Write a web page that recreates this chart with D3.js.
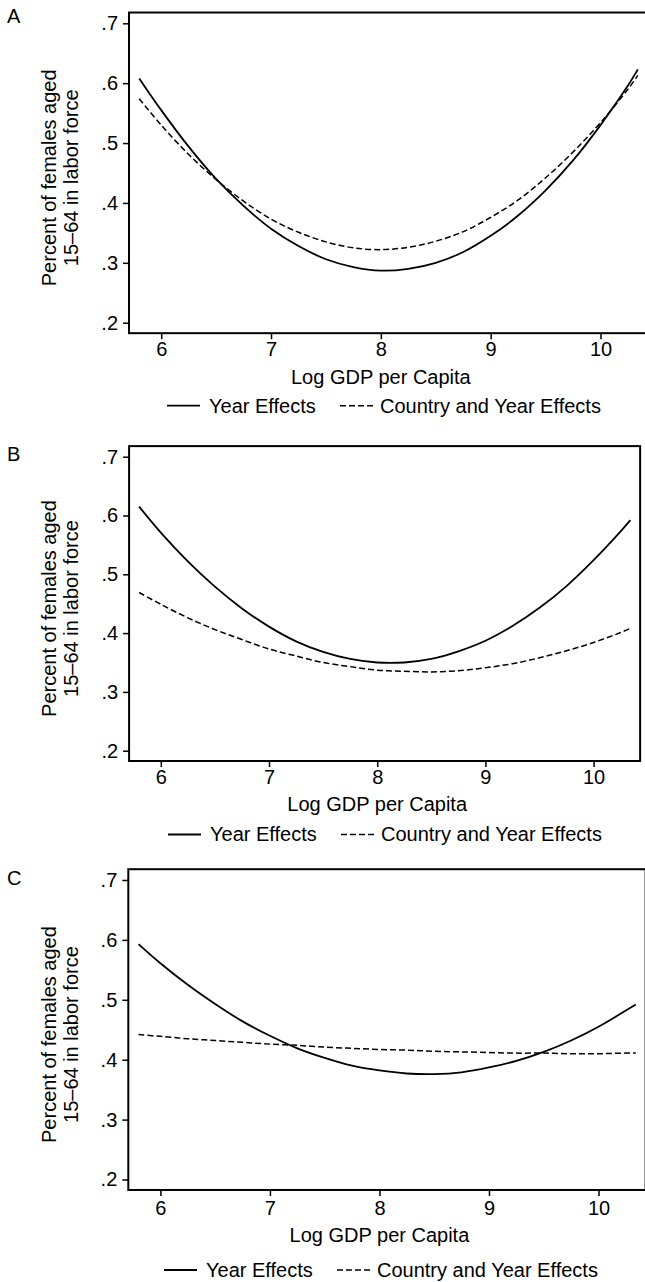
<!DOCTYPE html>
<html>
<head>
<meta charset="utf-8">
<script src="https://cdn.jsdelivr.net/npm/d3@7"></script>
<style>
  html, body { margin: 0; padding: 0; background: #fff; }
  svg { display: block; }
  text { font-family: "Liberation Sans", Arial, Helvetica, sans-serif; fill: #000; }
</style>
</head>
<body>
<svg id="chart" width="645" height="1282"></svg>
<script>
// Log GDP per capita grid at which the fitted curves are evaluated
const logGdp = [5.8, 6.0, 6.25, 6.5, 6.75, 7.0, 7.25, 7.5, 7.75, 8.0, 8.25, 8.5, 8.75, 9.0, 9.25, 9.5, 9.75, 10.0, 10.25, 10.34];

// Panel A
const aYearEffects        = [0.608, 0.555, 0.494, 0.440, 0.395, 0.357, 0.328, 0.306, 0.293, 0.287, 0.290, 0.300, 0.318, 0.345, 0.379, 0.421, 0.471, 0.530, 0.596, 0.623];
const aCountryYearEffects = [0.574, 0.530, 0.481, 0.439, 0.403, 0.373, 0.351, 0.335, 0.325, 0.322, 0.326, 0.336, 0.352, 0.376, 0.405, 0.442, 0.485, 0.534, 0.590, 0.613];
// Panel B
const bYearEffects        = [0.615, 0.571, 0.522, 0.479, 0.442, 0.411, 0.386, 0.368, 0.356, 0.350, 0.350, 0.356, 0.369, 0.387, 0.412, 0.443, 0.480, 0.524, 0.573, 0.592];
const bCountryYearEffects = [0.469, 0.449, 0.426, 0.406, 0.389, 0.373, 0.361, 0.350, 0.343, 0.337, 0.335, 0.334, 0.336, 0.341, 0.348, 0.358, 0.370, 0.384, 0.401, 0.408];
// Panel C
const cYearEffects        = [0.593, 0.561, 0.525, 0.493, 0.464, 0.440, 0.419, 0.403, 0.390, 0.382, 0.377, 0.376, 0.379, 0.387, 0.398, 0.413, 0.432, 0.455, 0.482, 0.492];
const cCountryYearEffects = [0.442, 0.439, 0.435, 0.432, 0.429, 0.426, 0.424, 0.421, 0.419, 0.417, 0.416, 0.414, 0.413, 0.412, 0.411, 0.411, 0.410, 0.410, 0.411, 0.411];

const panelLetters = ["A", "B", "C"];
const xTicks = [6, 7, 8, 9, 10];
const yTicks = [0.2, 0.3, 0.4, 0.5, 0.6, 0.7];
const yTickLabels = [".2", ".3", ".4", ".5", ".6", ".7"];
const xTitle = "Log GDP per Capita";
const yTitleLines = ["Percent of females aged", "15\u201364 in labor force"];
const seriesNames = ["Year Effects", "Country and Year Effects"];

// shared data extent of every plot region
const xExtent = [5.707, 10.43];
const yExtent = [0.1825, 0.718];

// pixel anchors of each panel: where x=6, x=10, y=.2, y=.7 fall,
// plus the offsets of the text rows beneath the plot region
const panels = [
  { letter: panelLetters[0], year: aYearEffects, cy: aCountryYearEffects,
    x6: 161.2, x10: 600.5, y2: 322.7, y7: 23.3, letterY: 22.5, legendShift: 0,
    tickPad: 3, titleOff: 50.5, legendOff: 79.5 },
  { letter: panelLetters[1], year: bYearEffects, cy: bCountryYearEffects,
    x6: 160.8, x10: 593.6, y2: 750.7, y7: 456.7, letterY: 461, legendShift: 1,
    tickPad: 3, titleOff: 50.5, legendOff: 80.5 },
  { letter: panelLetters[2], year: cYearEffects, cy: cCountryYearEffects,
    x6: 160.4, x10: 598.5, y2: 1179.5, y7: 880, letterY: 885, legendShift: -3,
    tickPad: 5, titleOff: 52.5, legendOff: 87 }
];

const svg = d3.select("#chart");
const FS = 20;

panels.forEach(p => {
  const x = d3.scaleLinear().domain([6, 10]).range([p.x6, p.x10]);
  const y = d3.scaleLinear().domain([0.2, 0.7]).range([p.y2, p.y7]);
  const left = x(xExtent[0]), right = x(xExtent[1]);
  const top = y(yExtent[1]), bottom = y(yExtent[0]);

  const g = svg.append("g");

  // panel letter
  g.append("text").attr("x", 7).attr("y", p.letterY)
    .style("font-size", FS + "px").text(p.letter);

  // curves
  const line = d3.line()
    .x((d, i) => x(logGdp[i]))
    .y(d => y(d))
    .curve(d3.curveCatmullRom.alpha(0.5));

  g.append("path").datum(p.cy)
    .attr("d", line).attr("fill", "none").attr("stroke", "#000")
    .attr("stroke-width", 1.5).attr("stroke-dasharray", "6,3");
  g.append("path").datum(p.year)
    .attr("d", line).attr("fill", "none").attr("stroke", "#000")
    .attr("stroke-width", 1.8);

  // plot region frame
  g.append("rect").attr("x", left).attr("y", top)
    .attr("width", right - left).attr("height", bottom - top)
    .attr("fill", "none").attr("stroke", "#000").attr("stroke-width", 2);

  // y axis
  const yAxis = d3.axisLeft(y).tickValues(yTicks)
    .tickFormat((d, i) => yTickLabels[i]).tickSize(6).tickPadding(5);
  const ya = g.append("g").attr("transform", `translate(${left},0)`).call(yAxis);
  ya.select(".domain").remove();
  ya.selectAll("line").attr("stroke", "#000").attr("stroke-width", 1.5);
  ya.selectAll("text").style("font-size", FS + "px")
    .style("font-family", '"Liberation Sans", Arial, sans-serif').attr("fill", "#000");

  // x axis
  const xAxis = d3.axisBottom(x).tickValues(xTicks).tickSize(6).tickPadding(p.tickPad)
    .tickFormat(d3.format("d"));
  const xa = g.append("g").attr("transform", `translate(0,${bottom})`).call(xAxis);
  xa.select(".domain").remove();
  xa.selectAll("line").attr("stroke", "#000").attr("stroke-width", 1.5);
  xa.selectAll("text").style("font-size", FS + "px")
    .style("font-family", '"Liberation Sans", Arial, sans-serif').attr("fill", "#000");

  // x axis title
  g.append("text").attr("x", x(8)).attr("y", bottom + p.titleOff)
    .attr("text-anchor", "middle").style("font-size", FS + "px").text(xTitle);

  // y axis title (two lines)
  const cyMid = (top + bottom) / 2 + 5;
  [56, 77.5].forEach((bx, i) => {
    g.append("text")
      .attr("transform", `translate(${bx},${cyMid}) rotate(-90)`)
      .attr("text-anchor", "middle").style("font-size", FS + "px")
      .text(yTitleLines[i]);
  });

  // legend
  const lb = bottom + p.legendOff;
  const s = p.legendShift;
  g.append("line").attr("x1", 167 + s).attr("x2", 200 + s)
    .attr("y1", lb - 7).attr("y2", lb - 7)
    .attr("stroke", "#000").attr("stroke-width", 1.8);
  g.append("text").attr("x", 209 + s).attr("y", lb)
    .style("font-size", FS + "px").text(seriesNames[0]);
  g.append("line").attr("x1", 340 + s).attr("x2", 374 + s)
    .attr("y1", lb - 7).attr("y2", lb - 7)
    .attr("stroke", "#000").attr("stroke-width", 1.5).attr("stroke-dasharray", "6,3");
  g.append("text").attr("x", 380 + s).attr("y", lb)
    .style("font-size", FS + "px").text(seriesNames[1]);
});
</script>
</body>
</html>
